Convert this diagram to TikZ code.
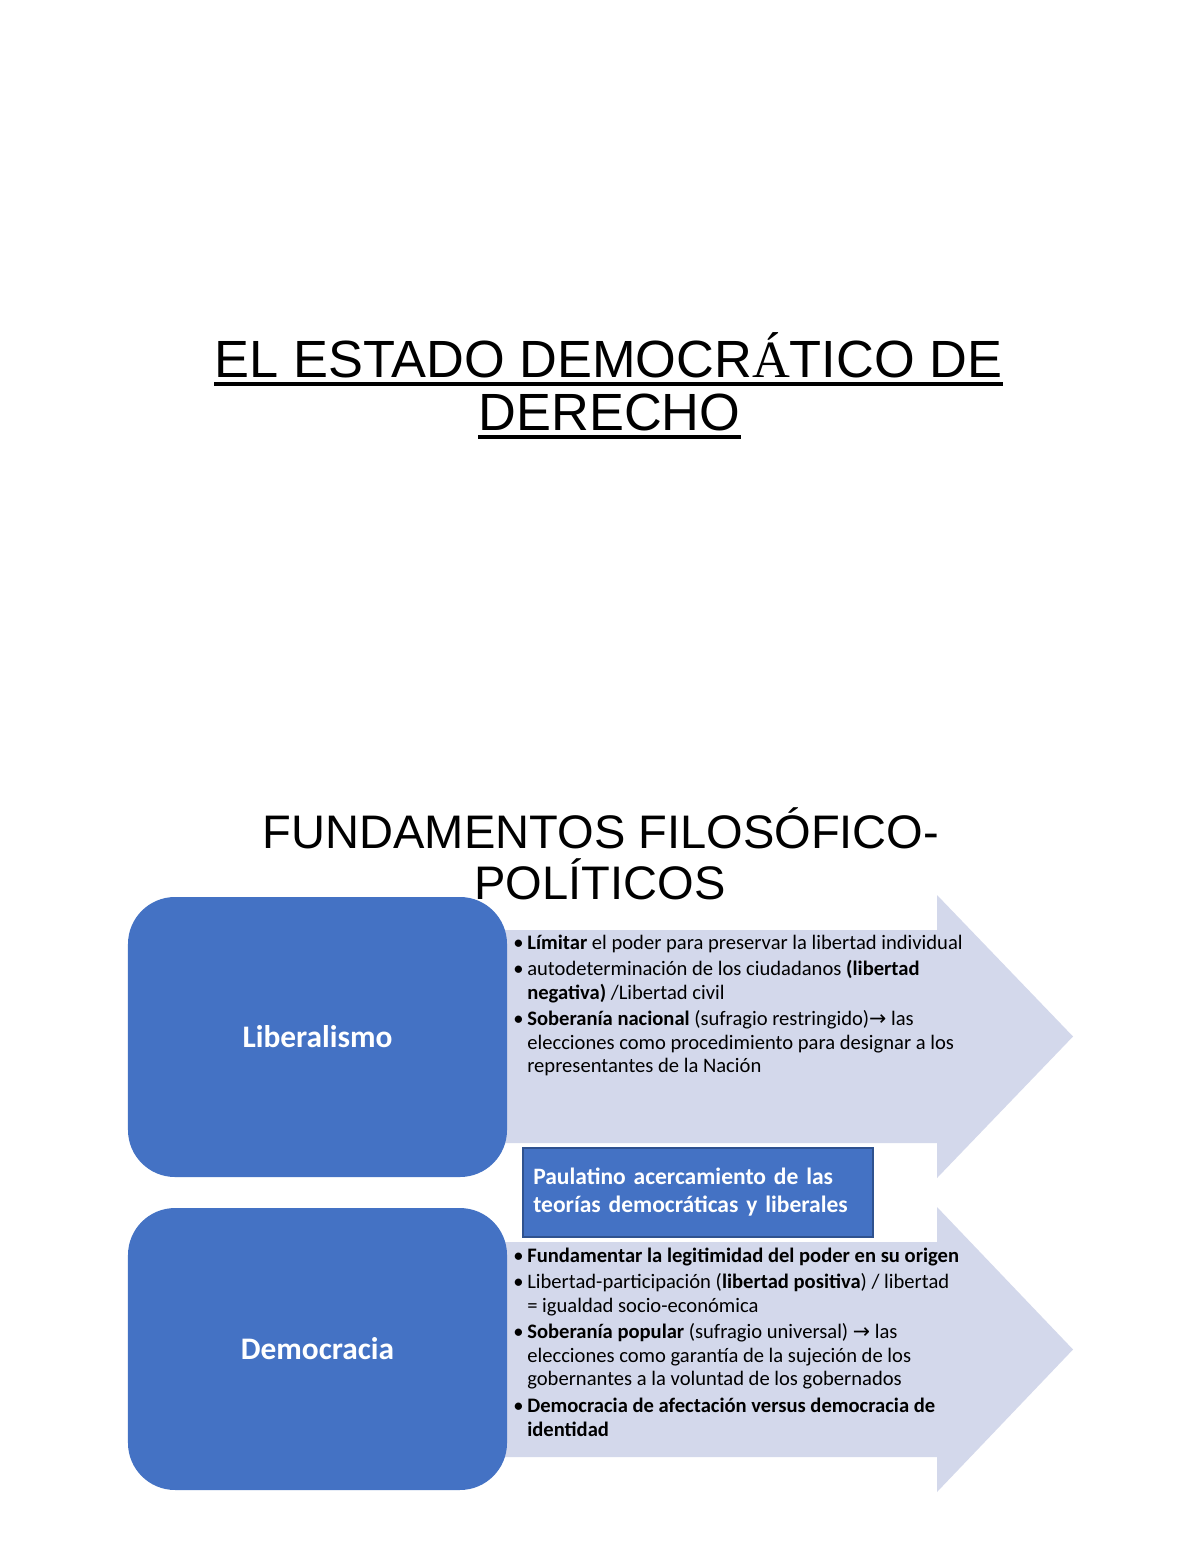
\documentclass[tikz,border=0pt]{standalone}
\usepackage{fontspec}
\setmainfont{Carlito}
\newfontfamily\arialf{Liberation Sans}
\newfontfamily\timesf{Liberation Serif}
\newfontfamily\symf{DejaVu Sans}
\definecolor{boxblue}{HTML}{4472C4}
\definecolor{boxedge}{HTML}{2F528F}
\definecolor{arrowfill}{HTML}{D3D8EB}
\newcommand{\bitem}[1]{\hangindent=7.1pt\hangafter=1\noindent\makebox[7.1pt][l]{\textbullet}#1\par}
\newcommand{\rarr}{{\symf\fontsize{10.5}{10}\selectfont →}}
\newcommand{\nl}{\newline}
\tikzset{
  titletext/.style={font=\arialf\fontsize{26.7}{30}\selectfont, inner sep=0pt, anchor=base},
  subtitletext/.style={font=\arialf\fontsize{24}{28}\selectfont, inner sep=0pt, anchor=base},
  ulinestyle/.style={line width=2pt, black},
  bigbox/.style={fill=boxblue, draw=none, rounded corners=24pt, minimum width=193.3pt,
    text=white, font=\bfseries\fontsize{16}{19}\selectfont, inner sep=0pt},
  arrowshape/.style={fill=arrowfill, draw=none},
  listtext/.style={anchor=base west, inner sep=0pt,
    font=\fontsize{10.5}{12}\selectfont},
  notebox/.style={fill=boxblue, draw=boxedge, line width=0.6pt, minimum width=178.5pt,
    minimum height=45.4pt, text width=168pt, align=left, inner sep=0pt,
    text=white, font=\bfseries\fontsize{12}{14.3}\selectfont}
}
\begin{document}
\begin{tikzpicture}[x=0.51pt,y=-0.51pt]
\useasboundingbox (0,0) rectangle (1200,1553);
\fill[white] (0,0) rectangle (1200,1553);

% Title
\node[titletext] (t1) at (608.5,377) {EL ESTADO DEMOCR{\timesf Á}TICO DE};
\node[titletext] (t2) at (609.5,430) {DERECHO};
\draw[ulinestyle] ([yshift=-3.5pt]t1.base west) -- ([yshift=-3.5pt]t1.base east);
\draw[ulinestyle] ([yshift=-3.5pt]t2.base west) -- ([yshift=-3.5pt]t2.base east);

% Subtitle
\node[subtitletext] (s1) at (601,848) {FUNDAMENTOS FILOSÓFICO-};
\node[subtitletext] (s2) at (600,899) {POLÍTICOS};

% Arrows
\fill[arrowshape] (420,930) -- (937,930) -- (937,895) -- (1073,1036.5) -- (937,1178) -- (937,1143) -- (420,1143) -- cycle;
\fill[arrowshape] (420,1242) -- (937,1242) -- (937,1207) -- (1073,1349.5) -- (937,1492) -- (937,1457) -- (420,1457) -- cycle;

% Boxes
\node[bigbox, minimum height=142.8pt] (lib) at (317.5,1037) {Liberalismo};
\node[bigbox, minimum height=143.8pt] (dem) at (317.5,1349) {Democracia};

% Lists
\node[listtext] (l1) at (513,949) {\parbox[t]{300pt}{\setlength{\parskip}{1.6pt}%
\bitem{\textbf{Límitar} el poder para preservar la libertad individual}%
\bitem{autodeterminación de los ciudadanos \textbf{(libertad}\nl\textbf{negativa)} /Libertad civil}%
\bitem{\textbf{Soberanía nacional} (sufragio restringido)\rarr{} las\nl elecciones como procedimiento para designar a los\nl representantes de la Nación}}};

\node[listtext] (l2) at (513,1262) {\parbox[t]{300pt}{\setlength{\parskip}{1.6pt}%
\bitem{\textbf{Fundamentar la legitimidad del poder en su origen}}%
\bitem{Libertad-participación (\textbf{libertad positiva}) / libertad\nl= igualdad socio-económica}%
\bitem{\textbf{Soberanía popular} (sufragio universal) \rarr{} las\nl elecciones como garantía de la sujeción de los\nl gobernantes a la voluntad de los gobernados}%
\bitem{\textbf{Democracia de afectación versus democracia de}\nl\textbf{identidad}}}};

% Note box
\node[notebox] (note) at (698,1192.5) {Paulatino acercamiento de las\\teorías democráticas y liberales};
\end{tikzpicture}
\end{document}
